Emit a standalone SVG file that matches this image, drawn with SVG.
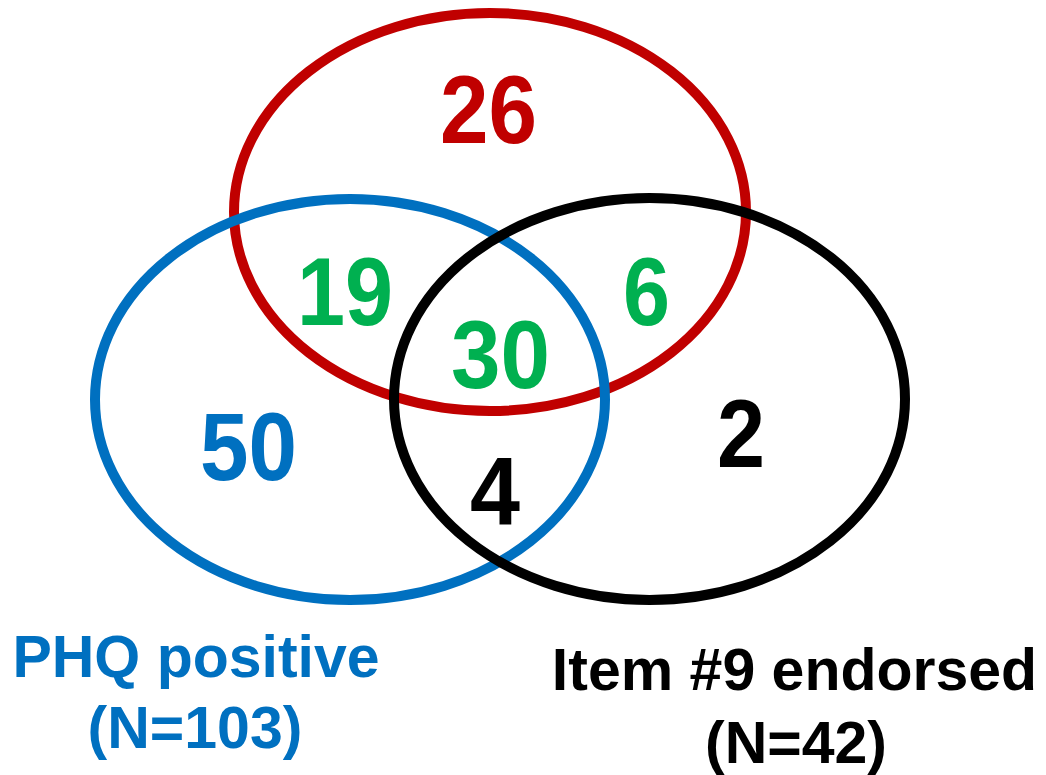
<svg xmlns="http://www.w3.org/2000/svg" width="1046" height="775" viewBox="0 0 1046 775">
<style>
.ring{fill:none;stroke-width:10}
.num{font-family:"Liberation Sans",Arial,sans-serif;font-weight:bold;font-size:96px;text-anchor:middle}
.lbl{font-family:"Liberation Sans",Arial,sans-serif;font-weight:bold;font-size:59px;text-anchor:middle}
</style>
<rect width="1046" height="775" fill="#ffffff"/>
<g id="connectors"></g>
<g id="set-red">
<ellipse class="ring" cx="490" cy="212" rx="256" ry="199" stroke="#C00000"/>
</g>
<g id="set-blue">
<ellipse class="ring" cx="350" cy="399.5" rx="255" ry="200.5" stroke="#0070C0"/>
</g>
<g id="set-black">
<ellipse class="ring" cx="649.5" cy="399" rx="255.5" ry="201" stroke="#000000"/>
</g>
<g id="counts">
<text class="num" x="488.5" y="143" fill="#C00000" textLength="97" lengthAdjust="spacingAndGlyphs">26</text>
<text class="num" x="345" y="325" fill="#00B050" textLength="96" lengthAdjust="spacingAndGlyphs">19</text>
<text class="num" x="646.5" y="325" fill="#00B050" textLength="47" lengthAdjust="spacingAndGlyphs">6</text>
<text class="num" x="500.5" y="388" fill="#00B050" textLength="99" lengthAdjust="spacingAndGlyphs">30</text>
<text class="num" x="248.5" y="480" fill="#0070C0" textLength="97" lengthAdjust="spacingAndGlyphs">50</text>
<text class="num" x="741" y="467" fill="#000000" textLength="48" lengthAdjust="spacingAndGlyphs">2</text>
<text class="num" x="495" y="525" fill="#000000" textLength="50" lengthAdjust="spacingAndGlyphs">4</text>
</g>
<g id="label-phq">
<text class="lbl" x="196" y="677" fill="#0070C0">PHQ positive</text>
<text class="lbl" x="195" y="748" fill="#0070C0">(N=103)</text>
</g>
<g id="label-item9">
<text class="lbl" x="794.5" y="690" fill="#000000">Item #9 endorsed</text>
<text class="lbl" x="796" y="763" fill="#000000">(N=42)</text>
</g>
</svg>
